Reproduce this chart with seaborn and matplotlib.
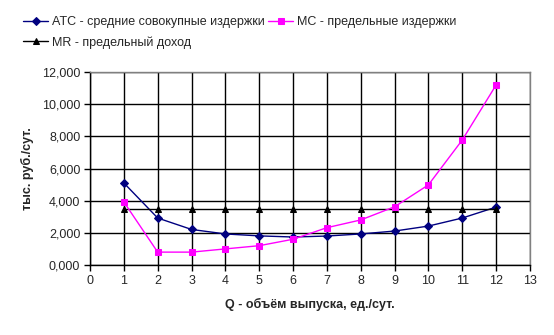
import matplotlib
matplotlib.use("Agg")
import matplotlib.pyplot as plt
import seaborn as sns
import pandas as pd
from matplotlib.ticker import FuncFormatter

q = [1, 2, 3, 4, 5, 6, 7, 8, 9, 10, 11, 12]
atc = [5100, 2920, 2210, 1930, 1810, 1740, 1800, 1930, 2110, 2420, 2920, 3600]
mc = [3920, 800, 800, 1000, 1200, 1600, 2320, 2800, 3620, 4980, 7770, 11190]
mr = [3480] * 12

lab_atc = "ATC - средние совокупные издержки"
lab_mc = "MC - предельные издержки"
lab_mr = "MR - предельный доход"

sns.set_style("white")
plt.rcParams["font.family"] = ["Liberation Sans", "DejaVu Sans"]

fig = plt.figure(figsize=(5.54, 3.35), dpi=100)
ax = fig.add_axes([0.1625, 0.209, 0.794, 0.576])

df = pd.DataFrame({"Q": q, "ATC": atc, "MC": mc, "MR": mr})

sns.lineplot(data=df, x="Q", y="ATC", ax=ax, color="#000080", marker="D",
             markersize=4, linewidth=1, markeredgecolor="#000080", label=lab_atc)
sns.lineplot(data=df, x="Q", y="MR", ax=ax, color="black", marker="^",
             markersize=5, linewidth=1, markeredgecolor="black", label=lab_mr)
sns.lineplot(data=df, x="Q", y="MC", ax=ax, color="#FF00FF", marker="s",
             markersize=5, linewidth=1, markeredgecolor="#FF00FF", label=lab_mc)

ax.set_xlim(0, 13)
ax.set_ylim(0, 12000)
ax.set_xticks(range(0, 14))
ax.set_yticks(range(0, 12001, 2000))
ax.yaxis.set_major_formatter(FuncFormatter(lambda v, p: f"{v/1000:.3f}".replace(".", ",")))
ax.grid(True, color="black", linewidth=1)
ax.set_axisbelow(True)

for s in ["left", "bottom"]:
    ax.spines[s].set_color("black")
    ax.spines[s].set_linewidth(1)
for s in ["top", "right"]:
    ax.spines[s].set_color("#808080")
    ax.spines[s].set_linewidth(1)

ax.tick_params(axis="both", which="both", direction="out", length=4, width=1,
               color="black", labelsize=9, pad=3, bottom=True, left=True)

ax.set_xlabel("Q - объём выпуска, ед./сут.", fontsize=9, fontweight="bold", labelpad=8)
ax.set_ylabel("тыс. руб./сут.", fontsize=9, fontweight="bold", labelpad=6)

ax.legend_.remove()
handles, labels = ax.get_legend_handles_labels()
fig.legend(handles, labels, ncol=2, loc="upper left", bbox_to_anchor=(0.022, 0.985),
           frameon=False, fontsize=9, handlelength=2.0, handletextpad=0.3,
           columnspacing=0.25, labelspacing=0.62)

fig.savefig("out.png", dpi=100, facecolor="white")
